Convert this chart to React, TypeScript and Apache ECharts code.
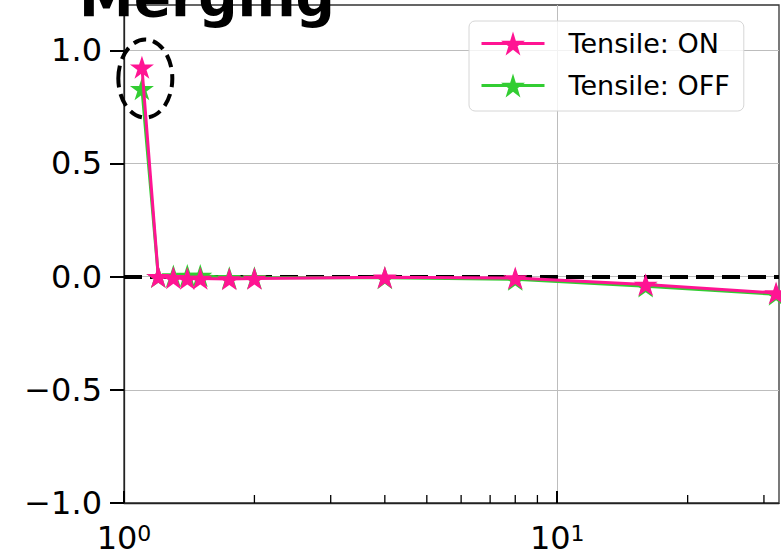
import React, { useEffect, useRef } from 'react';
import * as echarts from 'echarts';

const steps = [1.1, 1.2, 1.3, 1.4, 1.5, 1.75, 2, 4, 8, 16, 32];
const tensileOn = [0.925, 0.0, -0.005, -0.008, -0.008, -0.01, -0.008, -0.003, -0.006, -0.035, -0.072];
const tensileOff = [0.83, 0.0, 0.003, 0.005, 0.005, -0.005, -0.005, -0.005, -0.012, -0.042, -0.078];
const xMajorTicks = [1, 10];
const xMinorTicks = [2, 3, 4, 5, 6, 7, 8, 9, 20, 30];
const yTicks = [-1, -0.5, 0, 0.5, 1];
const highlightCenter = [1.12, 0.875];
const seriesNames = ['Tensile: ON', 'Tensile: OFF'];
const titleText = 'Merging';

const FONT = 'DejaVu Sans';
const STAR =
  'path://M50 0 L61.226 34.549 L97.553 34.549 L68.164 55.902 L79.389 90.451 L50 69.098 L20.611 90.451 L31.836 55.902 L2.447 34.549 L38.774 34.549 Z';

export default function App() {
  const ref = useRef<HTMLDivElement>(null);
  useEffect(() => {
    if (!ref.current) return;
    const chart = echarts.init(ref.current, null, { renderer: 'svg' });
    const option: any = {
      animation: false,
      backgroundColor: '#fff',
      textStyle: { fontFamily: FONT },
      grid: {
        left: 124,
        top: 5,
        right: 2,
        bottom: 53,
        show: true,
        borderColor: '#333',
        borderWidth: 1.3,
        backgroundColor: 'transparent',
      },
      graphic: [
        {
          type: 'text',
          x: 207,
          y: -3,
          z: 100,
          style: {
            text: titleText,
            fontSize: 55,
            fontWeight: 'bold',
            fontFamily: FONT,
            fill: '#000',
            align: 'center',
            verticalAlign: 'middle',
          },
        },
      ],
      legend: {
        data: seriesNames,
        orient: 'vertical',
        left: 469,
        top: 21,
        padding: [9, 14, 12, 11],
        itemWidth: 63,
        itemHeight: 30,
        itemGap: 15,
        lineStyle: { width: 3 },
        backgroundColor: 'rgba(255,255,255,0.8)',
        borderColor: '#d6d6d6',
        borderWidth: 1,
        borderRadius: 6,
        textStyle: { fontSize: 27, color: '#000', fontFamily: FONT, padding: [0, 0, 0, 19] },
      },
      xAxis: {
        type: 'log',
        logBase: 10,
        min: 1,
        max: 32.5,
        axisLine: { show: true, onZero: false, lineStyle: { color: '#222', width: 1.3 } },
        axisTick: {
          show: true,
          inside: true,
          length: 12,
          customValues: xMajorTicks,
          lineStyle: { color: '#000', width: 2 },
        },
        minorTick: { show: false },
        splitLine: { show: true, lineStyle: { color: '#bdbdbd', width: 1 } },
        axisLabel: {
          customValues: xMajorTicks,
          margin: 19,
          formatter: (v: number) => `{b|10}{s|${Math.round(Math.log10(v))}}`,
          rich: {
            b: { fontSize: 32, fontFamily: FONT, color: '#000', lineHeight: 32, verticalAlign: 'bottom' },
            s: { fontSize: 22, fontFamily: FONT, color: '#000', lineHeight: 16, verticalAlign: 'top' },
          },
        },
      },
      yAxis: {
        type: 'value',
        min: -1,
        max: 1.2,
        interval: 0.5,
        axisLine: { show: true, onZero: false, lineStyle: { color: '#222', width: 1.3 } },
        axisTick: {
          show: true,
          inside: false,
          length: 14,
          customValues: yTicks,
          lineStyle: { color: '#000', width: 2 },
        },
        splitLine: { show: true, lineStyle: { color: '#bdbdbd', width: 1 } },
        axisLabel: {
          customValues: yTicks,
          margin: 22,
          fontSize: 32,
          color: '#000',
          fontFamily: FONT,
          formatter: (v: number) => v.toFixed(1).replace('-', '\u2212'),
        },
      },
      series: [
        {
          name: seriesNames[0],
          type: 'line',
          z: 4,
          data: steps.map((x, i) => [x, tensileOn[i]]),
          color: '#ff1493',
          lineStyle: { width: 3, color: '#ff1493' },
          itemStyle: { color: '#ff1493' },
          symbol: STAR,
          symbolSize: 24,
          symbolKeepAspect: true,
          showAllSymbol: true,
        },
        {
          name: seriesNames[1],
          type: 'line',
          z: 3,
          data: steps.map((x, i) => [x, tensileOff[i]]),
          color: '#32cd32',
          lineStyle: { width: 3, color: '#32cd32' },
          itemStyle: { color: '#32cd32' },
          symbol: STAR,
          symbolSize: 24,
          symbolKeepAspect: true,
          showAllSymbol: true,
          markLine: {
            silent: true,
            symbol: 'none',
            z: 2,
            label: { show: false },
            lineStyle: { color: '#000', type: [18, 8], width: 4 },
            data: [{ yAxis: 0 }],
          },
        },
        {
          type: 'custom',
          z: 6,
          silent: true,
          clip: false,
          data: xMinorTicks.map((v) => [v, -1]),
          encode: { x: 0, y: 1 },
          renderItem: (_p: any, api: any) => {
            const p = api.coord([api.value(0), api.value(1)]);
            return {
              type: 'line',
              shape: { x1: p[0], y1: p[1], x2: p[0], y2: p[1] - 8 },
              style: { stroke: '#000', lineWidth: 1.3 },
            };
          },
        },
        {
          type: 'custom',
          z: 7,
          silent: true,
          clip: false,
          data: [highlightCenter],
          encode: { x: 0, y: 1 },
          renderItem: (_p: any, api: any) => {
            const p = api.coord([api.value(0), api.value(1)]);
            return {
              type: 'ellipse',
              shape: { cx: p[0], cy: p[1], rx: 27, ry: 39 },
              style: { fill: 'none', stroke: '#000', lineWidth: 4, lineDash: [13, 7] },
            };
          },
        },
      ],
    };
    chart.setOption(option);
    return () => chart.dispose();
  }, []);
  return (
    <div
      ref={ref}
      style={{ position: 'fixed', left: 0, top: 0, width: 781, height: 556, background: '#fff' }}
    />
  );
}
